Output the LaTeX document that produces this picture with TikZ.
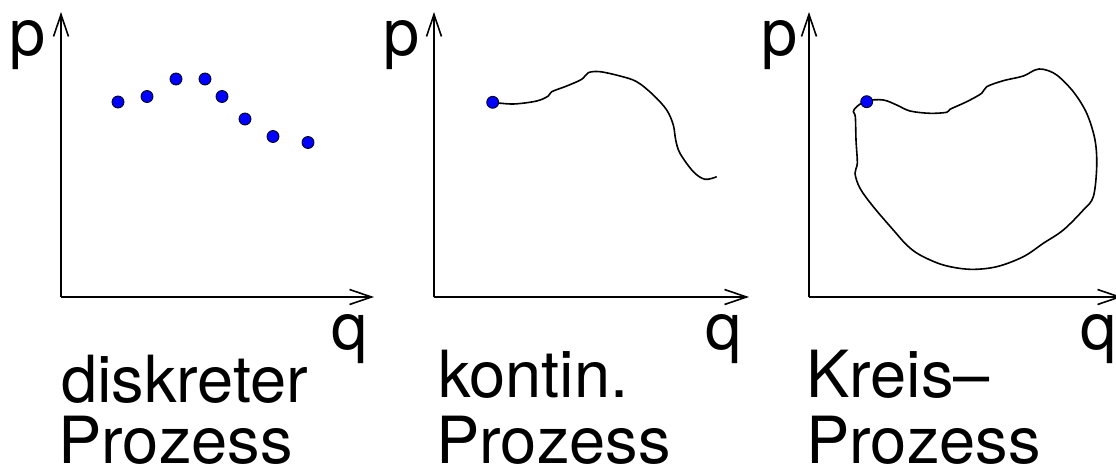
\documentclass[tikz,border=0pt]{standalone}
\usepackage{fontspec}
\setmainfont{TeX Gyre Heros}
\usetikzlibrary{arrows.meta}
\begin{document}
\begin{tikzpicture}[x=1pt,y=-1pt,
  axis/.style={line width=2pt,-{Straight Barb[length=22pt,width=15pt,line width=1.6pt]}},
  lbl/.style={anchor=base west,inner sep=0pt,font=\fontsize{65}{70}\selectfont},
  pt/.style={circle,draw=black,line width=0.8pt,fill=blue,inner sep=0pt,minimum size=12pt},
  curve/.style={line width=1.6pt,line join=round}]
\useasboundingbox (0,0) rectangle (1116,474);
% ---- panel 1
\coordinate (o1) at (61,297);
\coordinate (y1) at (61,12);
\coordinate (x1) at (374,297);
\draw[axis] (o1) -- (y1);
\draw[axis] (o1) -- (x1);
\node[lbl] (p1) at (9,55) {p};
\node[lbl] (q1) at (331,349) {q};
\node[lbl] (d1a) at (61,402) {diskreter};
\node[lbl] (d1b) at (58,463) {Prozess};
\foreach \i/\x/\y in {1/118/102,2/147/96.5,3/176/79,4/205/79,5/222/96.5,6/245/119,7/273/136.5,8/308/142.5}
  \node[pt] (dot\i) at (\x,\y) {};
% ---- panel 2
\coordinate (o2) at (434,297);
\coordinate (y2) at (434,12);
\coordinate (x2) at (749,297);
\draw[axis] (o2) -- (y2);
\draw[axis] (o2) -- (x2);
\node[lbl] (p2) at (383,55) {p};
\node[lbl] (q2) at (705,349) {q};
\node[lbl] (d2a) at (438,397) {kontin.};
\node[lbl] (d2b) at (436,463) {Prozess};
\draw[curve] plot[smooth,tension=0.55] coordinates {(492.7,102.3) (513.3,104) (536.7,101) (548.3,96) (551.7,91.7) (566.7,86) (581.7,79.3) (588.3,72.7) (600,71.7) (620,76) (636.7,81.7) (653.3,95) (666.7,110) (673.3,125) (675.7,140) (680,153.3) (693.3,171.7) (705,179.3) (716.7,176.7)};
\node[pt] (start2) at (492.7,102.3) {};
% ---- panel 3
\coordinate (o3) at (809,297);
\coordinate (y3) at (809,12);
\coordinate (x3) at (1122,297);
\draw[axis] (o3) -- (y3);
\draw[axis] (o3) -- (x3);
\node[lbl] (p3) at (761,55) {p};
\node[lbl] (q3) at (1080,349) {q};
\node[lbl] (d3a) at (806,397) {Kreis–};
\node[lbl] (d3b) at (806,463) {Prozess};
\draw[curve] plot[smooth cycle,tension=0.55] coordinates {(853.3,111.7) (856.7,106.7) (866.7,100.7) (883.3,100) (896.7,105) (910,111) (930,113.3) (946.7,112.3) (950,109.3) (966.7,101.7) (981.7,93.3) (986.7,86.7) (1003.3,80.7) (1023.3,76) (1035,70) (1043.3,69.3) (1056.7,75) (1073.3,91.7) (1086.7,113.3) (1095,140) (1096.7,166.7) (1093.3,196.7) (1083.3,210) (1063.3,230) (1043.3,243.3) (1023.3,256.7) (996.7,266.7) (970,269.3) (943.3,265) (920,255) (906.7,245) (893.3,230) (873.3,206.7) (860,188.3) (855,173.3) (857.3,163.3) (856,140) (855.3,116.7)};
\node[pt] (start3) at (866.7,101.7) {};
\end{tikzpicture}
\end{document}
